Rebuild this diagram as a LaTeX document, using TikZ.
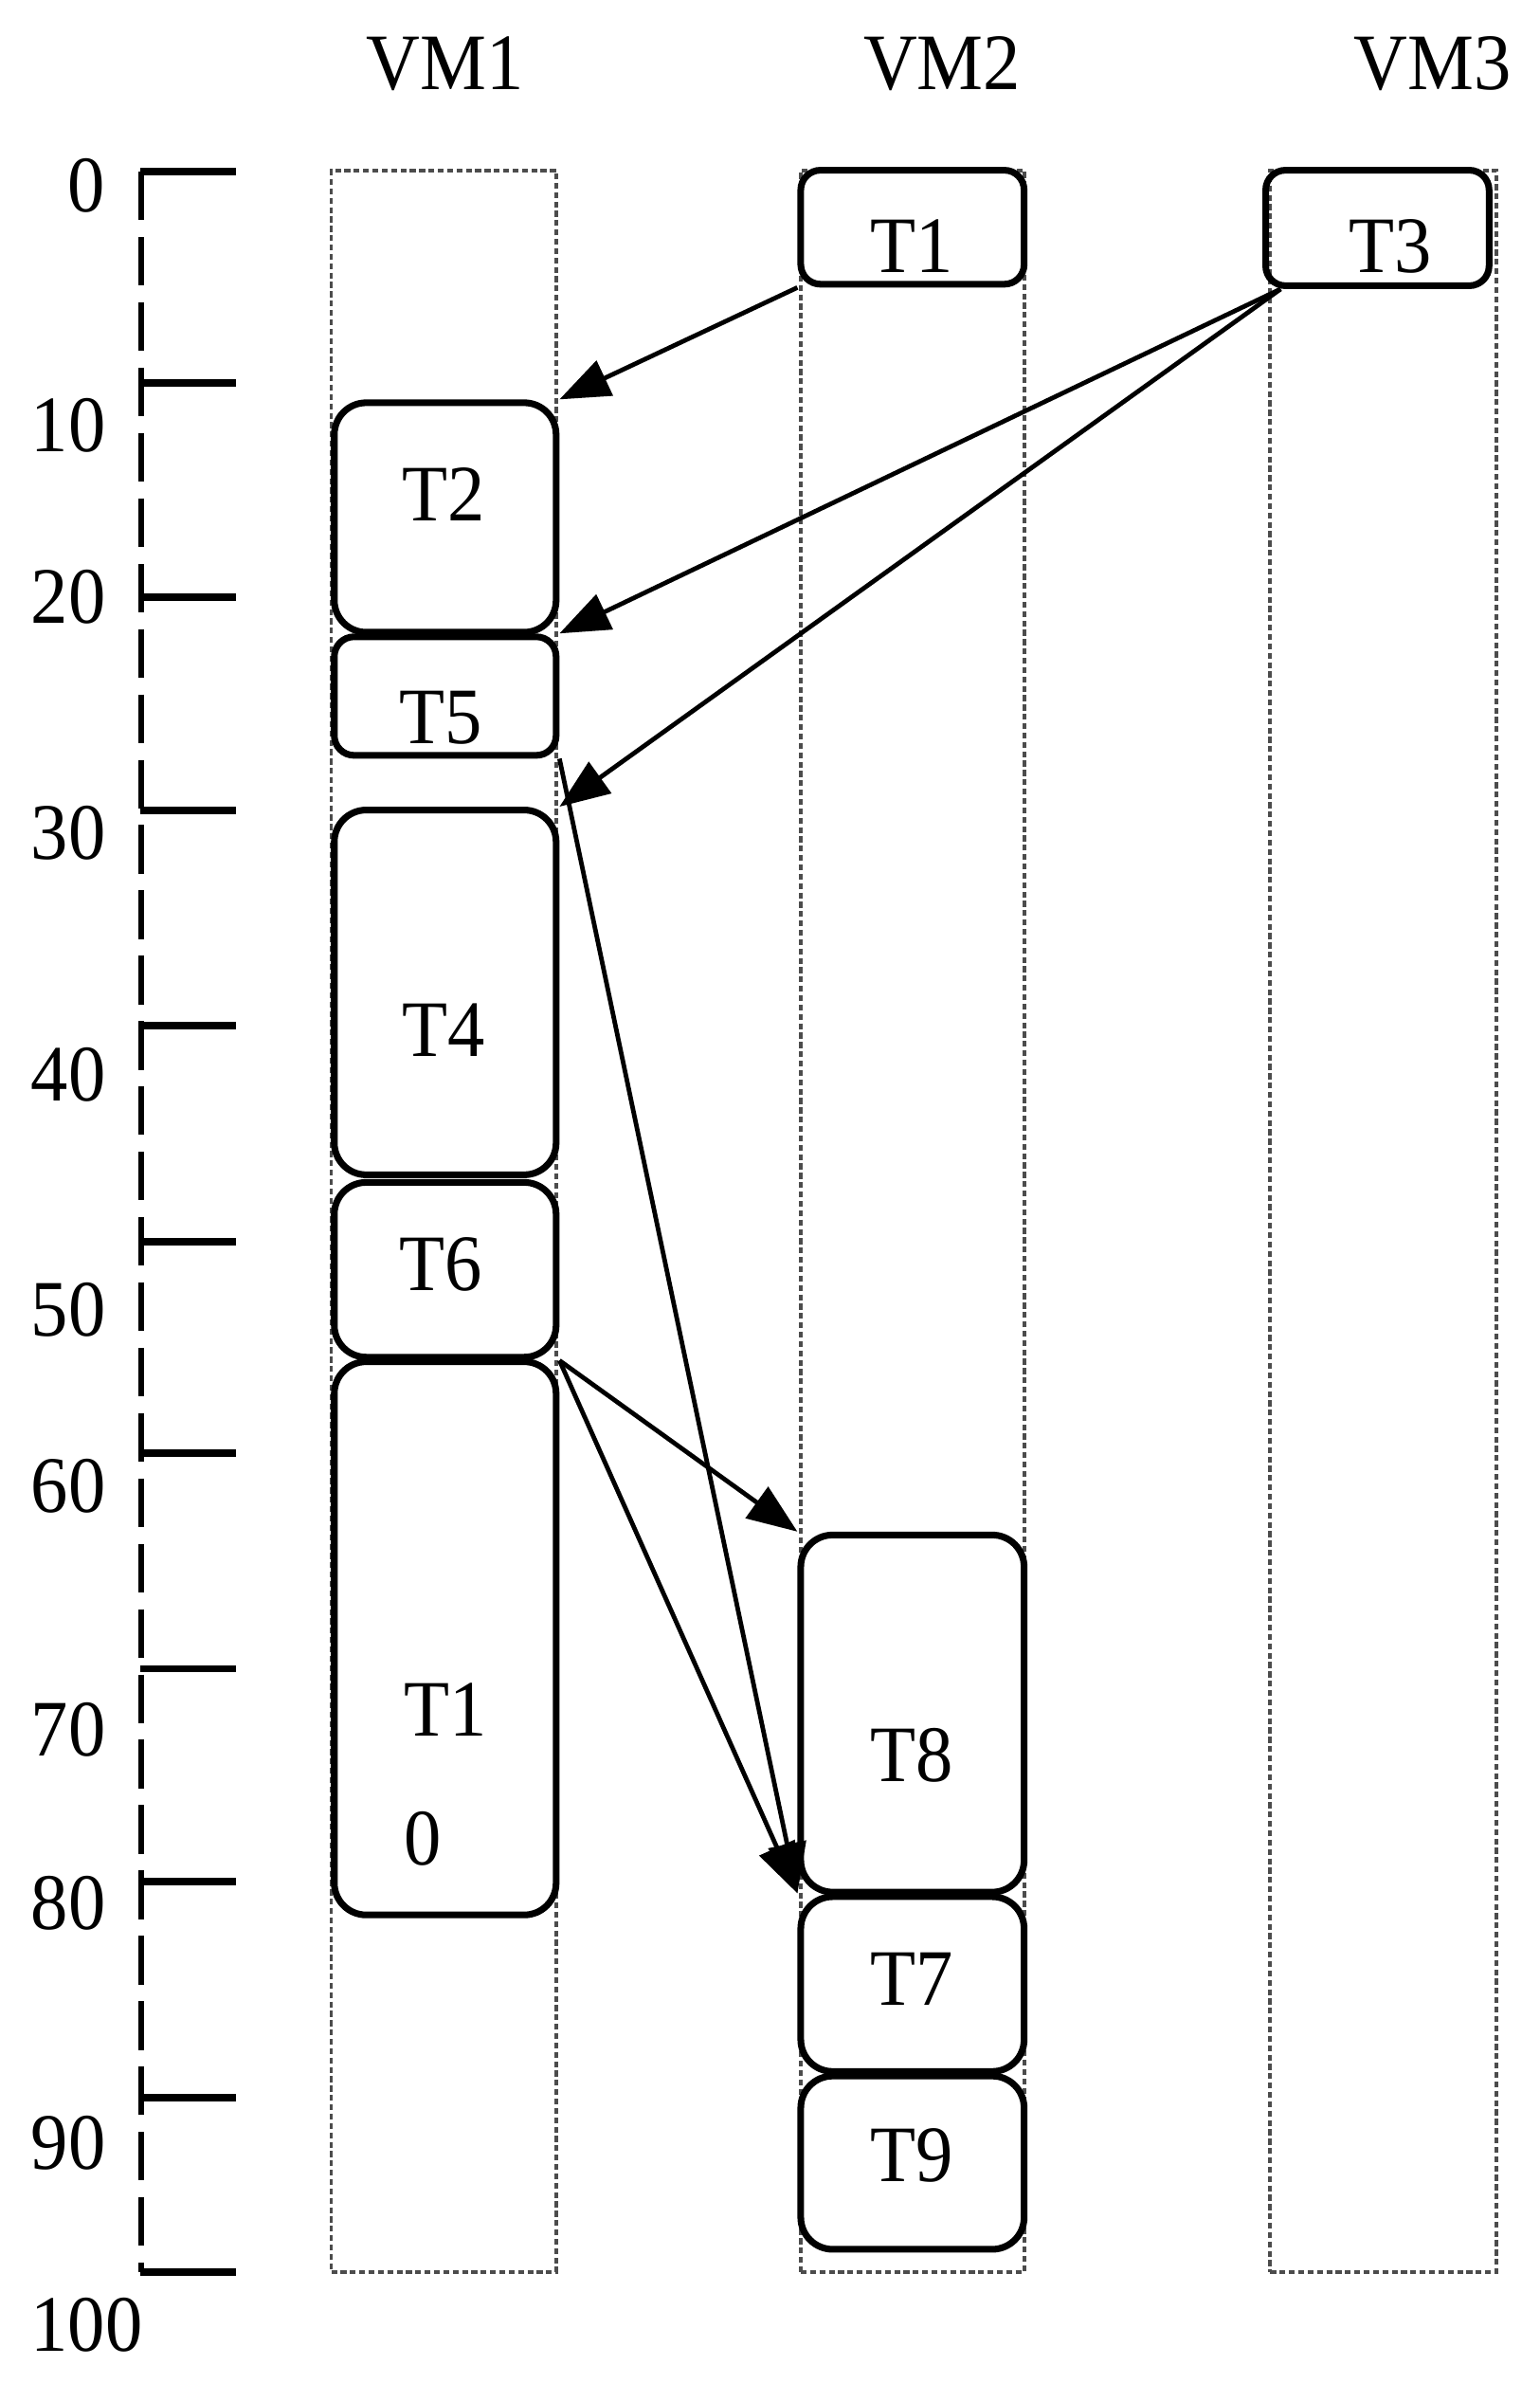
\documentclass[tikz,border=0pt]{standalone}
\usepackage{fontspec}
\setmainfont[FakeStretch=0.93]{Liberation Serif}
\usetikzlibrary{fit,arrows.meta}
\begin{document}
\begin{tikzpicture}[x=0.02cm,y=-0.02cm,
  every node/.style={font=\fontsize{30}{32}\selectfont, inner sep=0pt},
  vmbox/.style={draw=black!70, line width=1.4pt, dash pattern=on 2.2pt off 1.3pt, inner sep=0pt},
  task/.style={draw, line width=2.5pt, rounded corners=0.42cm, inner sep=0pt},
  smalltask/.style={draw, line width=2.5pt, rounded corners=0.26cm, inner sep=0pt},
  dep/.style={line width=1.7pt, -{Triangle[length=0.66cm,width=0.5cm]}},
  axisline/.style={line width=2.2pt, dash pattern=on 0.64cm off 0.22cm},
  tickmark/.style={line width=2.8pt}]
\useasboundingbox (0,0) rectangle (1013,1568);

% VM columns
\node[vmbox, fit={(218,112)(366,1495)}] (VM1box) {};
\node[vmbox, fit={(527,112)(674,1495)}] (VM2box) {};
\node[vmbox, fit={(836,112)(985,1495)}] (VM3box) {};
\node (VM1) at (293,42) {VM1};
\node (VM2) at (620,42) {VM2};
\node (VM3) at (943,42) {VM3};

% time axis
\draw[axisline] (93,113) -- (93,1495);
\foreach \yy in {113,252,393,533,675,817,956,1098,1238,1380,1495}
  \draw[tickmark] (92,\yy) -- (155,\yy);
\node (L0) at (57,122) {0};
\node (L10) at (45,280) {10};
\node (L20) at (45,393) {20};
\node (L30) at (45,548) {30};
\node (L40) at (45,707) {40};
\node (L50) at (45,862) {50};
\node (L60) at (45,978) {60};
\node (L70) at (45,1138) {70};
\node (L80) at (45,1252) {80};
\node (L90) at (45,1410) {90};
\node (L100) at (57,1530) {100};

% tasks
\node[smalltask, fit={(527,112)(674,187)}] (T1) {};
\node[smalltask, fit={(833,112)(980,188)}] (T3) {};
\node[task, fit={(220,265)(366,416)}] (T2) {};
\node[smalltask, fit={(220,419)(366,497)}] (T5) {};
\node[task, fit={(220,533)(366,773)}] (T4) {};
\node[task, fit={(220,778)(366,893)}] (T6) {};
\node[task, fit={(220,896)(366,1260)}] (T10) {};
\node[task, fit={(527,1010)(674,1245)}] (T8) {};
\node[task, fit={(527,1248)(674,1363)}] (T7) {};
\node[task, fit={(527,1366)(674,1480)}] (T9) {};

\node (T1t) at (600,162) {T1};
\node (T3t) at (915,162) {T3};
\node (T2t) at (292,325) {T2};
\node (T5t) at (290,472) {T5};
\node (T4t) at (292,678) {T4};
\node (T6t) at (290,832) {T6};
\node (T10a) at (293,1125) {T1};
\node (T10b) at (278,1210) {0};
\node (T8t) at (600,1155) {T8};
\node (T7t) at (600,1302) {T7};
\node (T9t) at (600,1418) {T9};

% dependencies
\draw[dep] (T1.south west) -- (T2.north east);
\draw[dep] ([xshift=0.24cm]T3.south west) -- (T5.north east);
\draw[dep] ([xshift=0.24cm]T3.south west) -- (T4.north east);
\draw[dep] (T5.south east) -- (T7.north west);
\draw[dep] (T6.south east) -- (T8.north west);
\draw[dep] (T6.south east) -- (T7.north west);
\end{tikzpicture}
\end{document}
